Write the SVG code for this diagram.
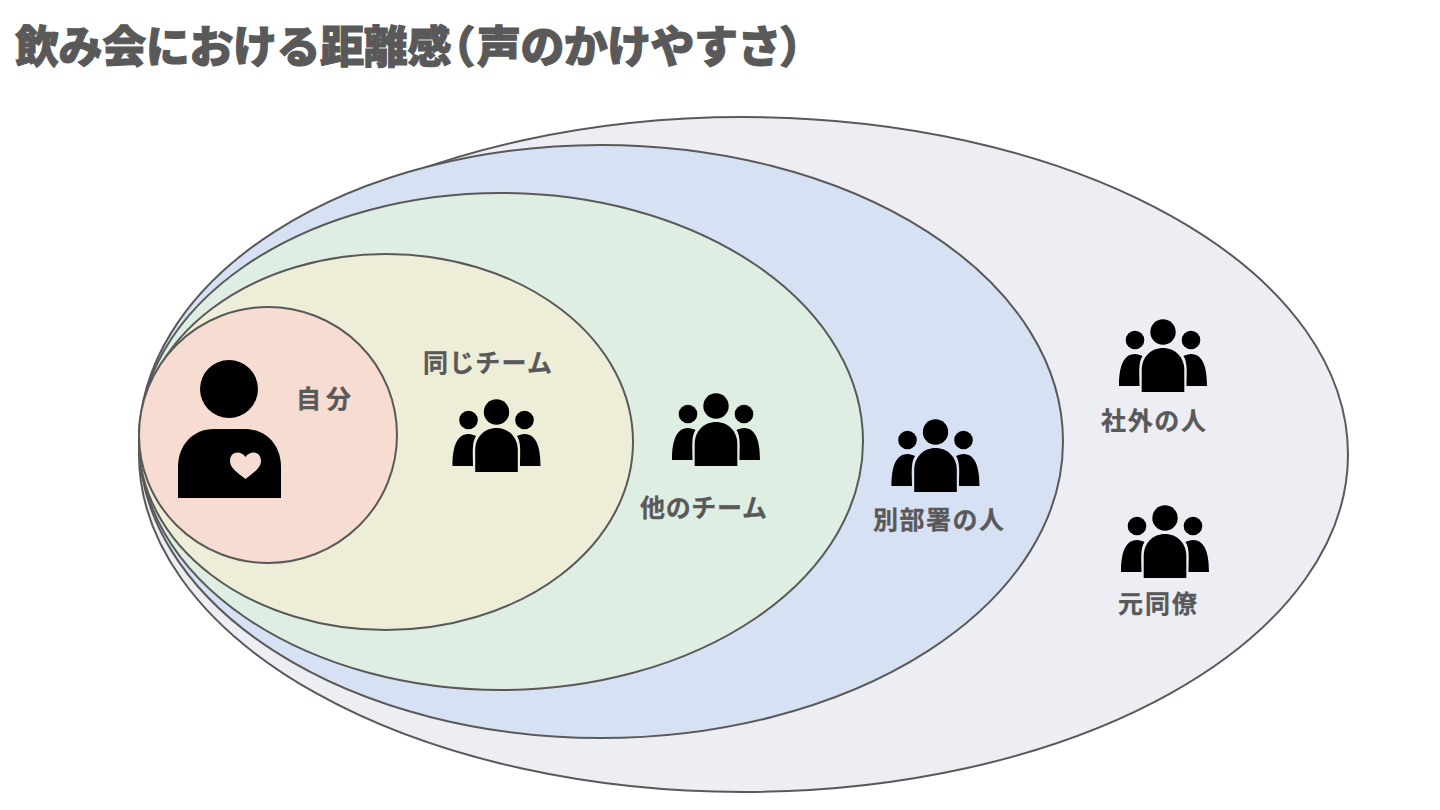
<svg xmlns="http://www.w3.org/2000/svg" xmlns:xlink="http://www.w3.org/1999/xlink" width="1440" height="810" viewBox="0 0 1440 810">
<style>
.e{stroke:#595959;stroke-width:2}
.l{font-family:"Noto Sans CJK JP","Liberation Sans",sans-serif;font-weight:700;font-size:25px;fill:#595959;stroke:#595959;stroke-width:.3}
.t{font-family:"Noto Sans CJK JP","Liberation Sans",sans-serif;font-weight:900;font-size:44px;fill:#595959;stroke:#595959;stroke-width:1}
.p{font-feature-settings:"palt"}
</style>
<defs>
<g id="people">
<circle cx="0" cy="-33" r="12.700"/>
<circle cx="-28" cy="-25" r="9.300"/>
<circle cx="28" cy="-25" r="9.300"/>
<path d="M-21.300 27V5C-21.300-8-12-17 0-17S21.300-8 21.300 5V27Z"/>
<path d="M-44 21C-44 5-41-11-28-11C-25-11-23-10-20.500-9C-25-2-23.500 8-23.500 21Z"/>
<path d="M44 21C44 5 41-11 28-11C25-11 23-10 20.500-9C25-2 23.500 8 23.500 21Z"/>
</g>
</defs>
<rect width="1440" height="810" fill="#fff"/>
<text id="title" class="t" y="63"><tspan x="15" letter-spacing="-.4">飲み会における距離感</tspan><tspan class="p" x="451.500">（</tspan><tspan x="477" letter-spacing="-.6">声のかけやすさ</tspan><tspan class="p" x="781">）</tspan></text>
<g id="ring-outer"><ellipse class="e" cx="743.5" cy="454.5" rx="604.5" ry="337.5" fill="#eceef3"/></g>
<g id="ring-dept"><ellipse class="e" cx="601" cy="441.5" rx="462" ry="296.5" fill="#d7e1f4"/></g>
<g id="ring-other"><ellipse class="e" cx="501" cy="441.5" rx="362" ry="248.5" fill="#dfeee2"/></g>
<g id="ring-team"><ellipse class="e" cx="386" cy="442" rx="247" ry="188" fill="#eeeed8"/></g>
<g id="ring-self"><ellipse class="e" cx="268" cy="435" rx="129" ry="128" fill="#f7dcd1"/></g>
<g id="self">
<circle cx="229" cy="389" r="29"/>
<path d="M178 498V467C178 445 193 429 214 429H245C266 429 281 445 281 467V498Z"/>
<path d="M245.500 479C238 473 230 468 230 461C230 451 241 450 245.500 457C250 450 261 451 261 461C261 468 253 473 245.500 479Z" fill="#f7dcd1"/>
<text class="l" x="296" y="408" textLength="55">自分</text>
</g>
<g id="team"><use xlink:href="#people" href="#people" x="496.500" y="445"/><text class="l" x="423" y="372" textLength="129">同じチーム</text></g>
<g id="other"><use xlink:href="#people" href="#people" x="716" y="439"/><text class="l" x="640" y="517" textLength="127">他のチーム</text></g>
<g id="dept"><use xlink:href="#people" href="#people" x="935.500" y="465"/><text class="l" x="873" y="529" textLength="131">別部署の人</text></g>
<g id="outside"><use xlink:href="#people" href="#people" x="1163" y="365"/><text class="l" x="1101" y="430" textLength="105">社外の人</text></g>
<g id="former"><use xlink:href="#people" href="#people" x="1165" y="551"/><text class="l" x="1118" y="613" textLength="79">元同僚</text></g>
<g id="connectors"/>
</svg>
